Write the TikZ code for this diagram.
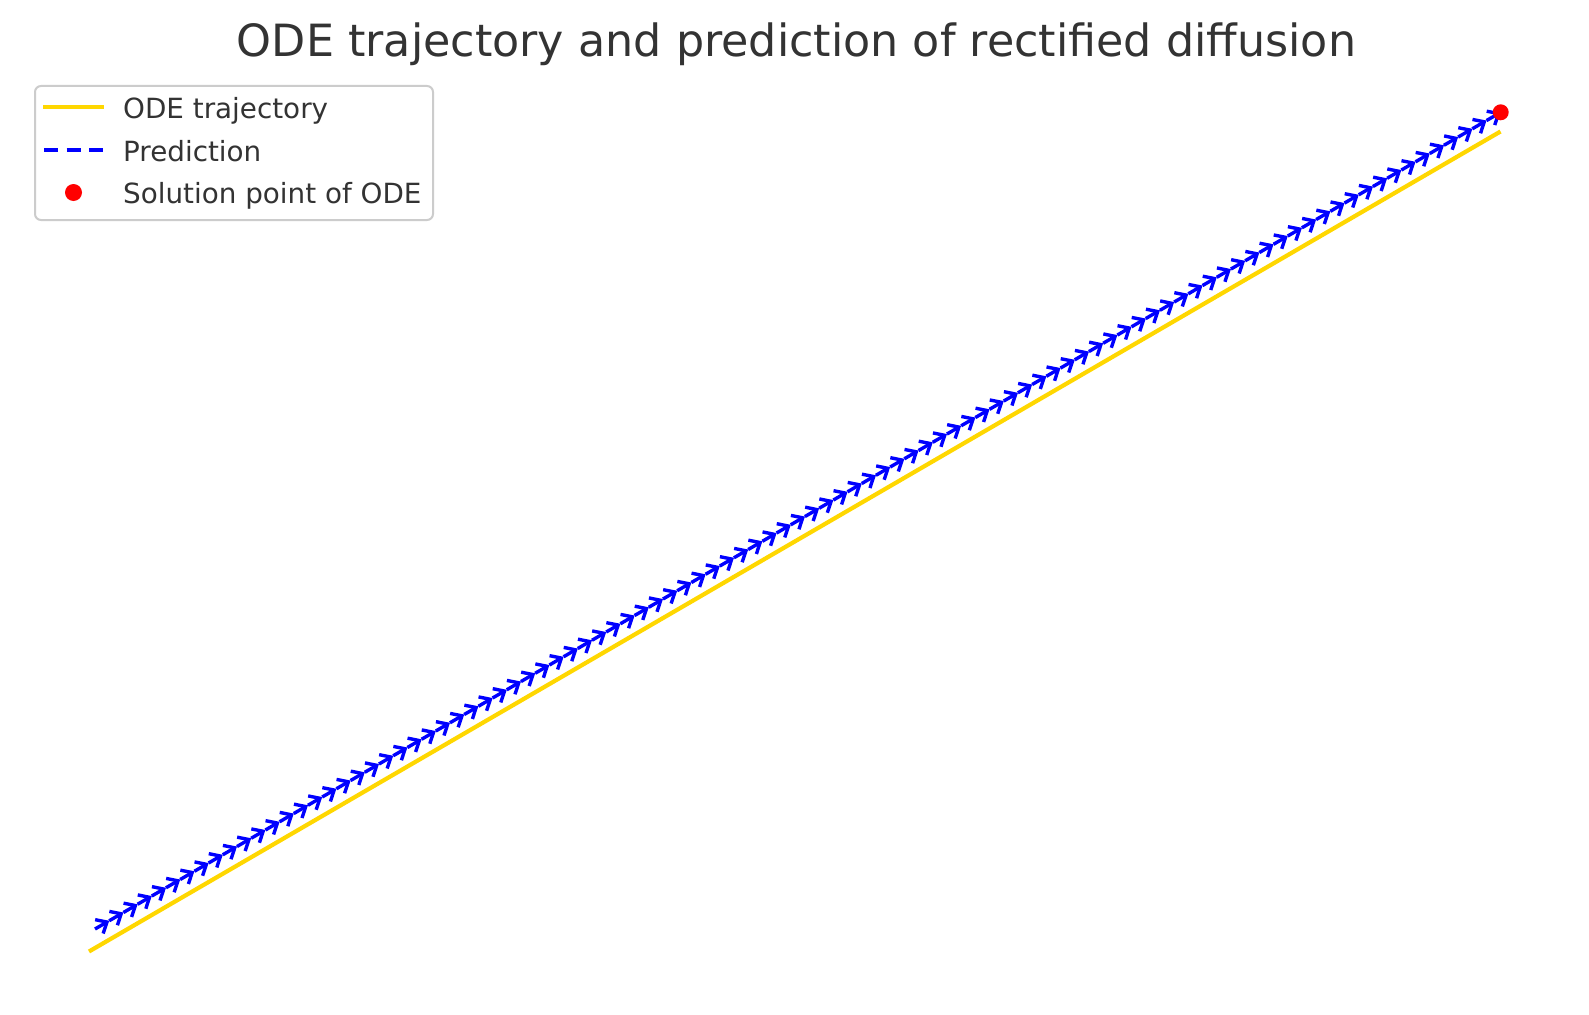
\documentclass[tikz,border=0pt]{standalone}
\usepackage{fontspec}
\setmainfont{DejaVu Sans}
\usetikzlibrary{arrows.meta,calc}
\definecolor{txt}{HTML}{333333}
\definecolor{gold}{HTML}{FFD700}
\definecolor{legframecol}{HTML}{CCCCCC}
\begin{document}
\begin{tikzpicture}[x=1pt,y=-1pt,
  titletext/.style={font=\fontsize{44.4}{50}\selectfont, text=txt, inner sep=0pt, anchor=base},
  legtext/.style={font=\fontsize{27.8}{32}\selectfont, text=txt, inner sep=0pt, anchor=base west},
  traj/.style={draw=gold, line width=4.2pt},
  pred/.style={draw=blue, line width=3.4pt, -{Straight Barb[length=9pt,width=16pt]}},
  preddash/.style={draw=blue, line width=4pt, dash pattern=on 14pt off 8.5pt},
  soldot/.style={circle, fill=red, minimum size=16pt, inner sep=0pt},
  legbox/.style={draw=legframecol, line width=2pt, rounded corners=6pt, fill=white, inner sep=0pt}]
\useasboundingbox[fill=white] (0,0) rectangle (1589,1014);

% title
\node[titletext] (title) at (796.5,57) {ODE trajectory and prediction of rectified diffusion};

% legend
\node[legbox, minimum width=398pt, minimum height=134pt, anchor=north west] (legend) at (34,85) {};
\coordinate (l1a) at (43,107);
\coordinate (l1b) at (104,107);
\draw[traj] (l1a) -- (l1b);
\coordinate (l2a) at (44,150);
\coordinate (l2b) at (104,150);
\draw[preddash] (l2a) -- (l2b);
\node[soldot, minimum size=17pt] (l3dot) at (73.5,192.5) {};
\node[legtext] (t1) at (123,118.5) {ODE trajectory};
\node[legtext] (t2) at (123,161) {Prediction};
\node[legtext] (t3) at (123,203) {Solution point of ODE};

% ODE trajectory
\coordinate (y0) at (89,951.5);
\coordinate (y1) at (1500.5,131.5);
\draw[traj] (y0) -- (y1);

% prediction arrows
\coordinate (b0) at (95,929);
\coordinate (b1) at (1500.7,112.3);
\foreach \i [evaluate=\i as \j using int(\i+1)] in {0,...,98}
  \draw[pred] ($(b0)!\i/99!(b1)$) -- ($(b0)!\j/99!(b1)$);

% solution point
\node[soldot] (sol) at (b1) {};
\end{tikzpicture}
\end{document}
